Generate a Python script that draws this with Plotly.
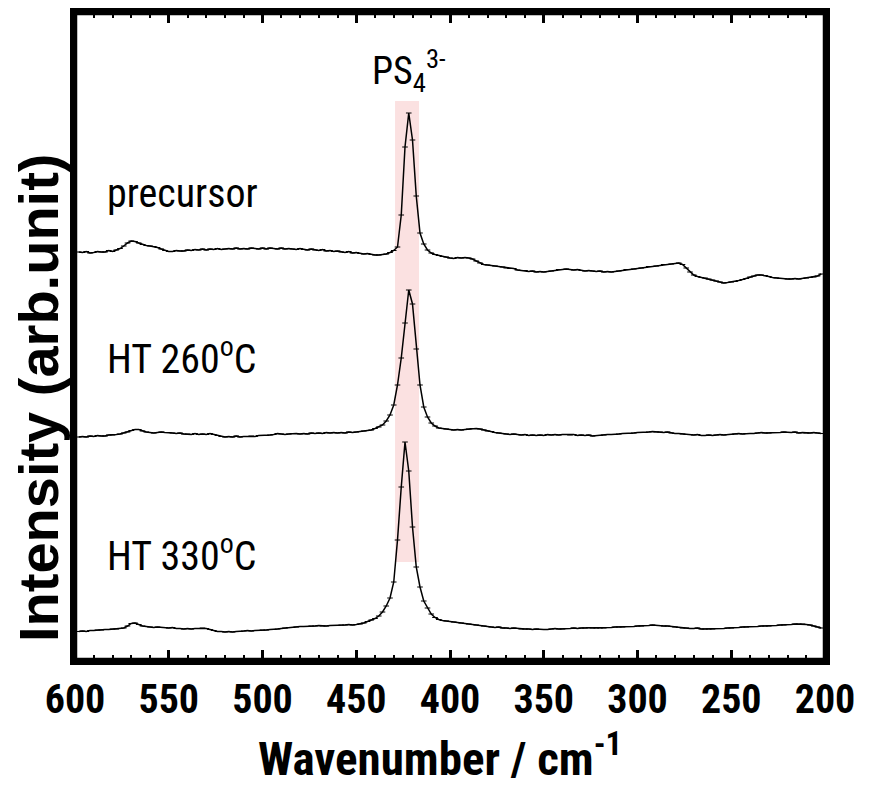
import plotly.graph_objects as go

# ---------------- data ----------------
wavenumber = list(range(598, 200, -2))  # cm^-1, 598 ... 202

precursor = [
    408, 407.5, 408.5, 407, 407.5, 408.5, 408, 408, 409.5, 408.5,
    410, 411.5, 414, 417, 419, 418.5, 417, 415.5, 414.5, 414,
    413.5, 412.5, 411, 409.5, 408.5, 408.5, 409.5, 409, 409, 410,
    409.5, 410.5, 410, 411, 410, 411, 410.5, 411.5, 410.5, 411,
    411.5, 411, 412, 411, 411.5, 411, 412, 411.5, 411, 412,
    411, 412, 411.5, 411, 412, 411, 411.5, 411, 410.5, 411.5,
    410.5, 410, 411, 410, 409.5, 410.5, 409, 409.5, 408.5, 409,
    408, 407.5, 408.5, 407, 407.5, 406.5, 406, 406.5, 405.5, 405,
    405, 405.5, 406, 407.5, 409.5, 413, 445, 513, 547, 520,
    464, 427, 416, 410, 407, 405.5, 404.5, 403.5, 403, 402,
    401.5, 402.5, 402, 402.5, 402, 401, 399, 397, 395.5, 395,
    394.5, 394, 393.5, 393, 392, 391.5, 391.5, 390, 389.5, 389.5,
    388.5, 389, 388, 388.5, 388, 388.5, 389, 389.5, 390.5, 390.5,
    391, 390.5, 390, 390.5, 389.5, 389, 389.5, 389, 388.5, 389,
    388, 388.5, 388, 388.5, 389, 389.5, 390.5, 390.5, 391, 391.5,
    392, 392.5, 393.5, 393.5, 394, 394.5, 395.5, 395.5, 396, 396.5,
    397, 395.5, 392, 388, 385, 383.5, 382.5, 382, 381, 380,
    379, 378, 377, 377.5, 378, 378.5, 379.5, 380.5, 381.5, 383,
    384, 385, 385, 384.5, 383.5, 382.5, 382, 381.5, 381.5, 381,
    381, 381.5, 381, 381.5, 382, 382.5, 383, 384, 386,
]

ht260 = [
    223, 223.5, 223, 224, 223.5, 224.5, 224, 224, 225, 225,
    225.5, 226, 227, 228, 229.5, 230.5, 230.5, 229, 228, 227.5,
    227, 227.5, 228, 227.5, 227.5, 227, 226.5, 227, 226, 226,
    225.5, 226.5, 225.5, 226, 225.5, 226.5, 225.5, 224.5, 223.5, 223,
    223.5, 223, 224, 223, 223.5, 223.5, 224, 223.5, 224.5, 224.5,
    224.5, 225, 225.5, 226.5, 226, 225.5, 226, 226.5, 226.5, 226,
    226.5, 226, 227, 226.5, 227, 226.5, 227.5, 227, 227.5, 227,
    227.5, 227, 228, 227.5, 228, 228.5, 229, 229.5, 230, 231.5,
    233, 235, 239, 245, 255, 275, 302, 337, 370, 356,
    311, 275, 253, 243, 237, 234, 232, 231.5, 231, 230.5,
    230, 230.5, 230, 230.5, 231, 231.5, 231.5, 231, 230, 229,
    228.5, 227.5, 227, 226.5, 226, 225.5, 226, 225.5, 225, 225.5,
    224.5, 225, 224.5, 225, 224.5, 225.5, 225, 225.5, 225, 225.5,
    225.5, 225, 225.5, 224.5, 225, 224.5, 225, 224, 224.5, 224.5,
    225, 225.5, 225.5, 225.5, 226, 226.5, 226.5, 226.5, 227, 227.5,
    227.5, 227.5, 228, 228.5, 228, 228, 227.5, 228, 227, 226.5,
    226.5, 226, 225.5, 225.5, 225, 225.5, 224.5, 224.5, 225, 224.5,
    225, 225.5, 225, 225.5, 225.5, 226, 226.5, 226, 226.5, 226.5,
    226.5, 227, 227.5, 227, 227, 227.5, 227.5, 227.5, 228, 227.5,
    227.5, 228, 227, 227.5, 227, 227, 227.5, 227, 226.5,
]

ht330 = [
    28.5, 29, 28.5, 29.5, 29.5, 30, 30, 30.5, 30.5, 31,
    31, 31.5, 32, 34, 36.5, 37, 35.5, 34, 33.5, 33,
    32.5, 33, 32.5, 32.5, 32, 32.5, 31.5, 31.5, 31, 31.5,
    31, 31.5, 31.5, 32, 31.5, 30.5, 29.5, 28.5, 28.5, 28,
    28.5, 28, 28.5, 28.5, 29, 29.5, 29, 29.5, 29.5, 30,
    30, 30.5, 30.5, 31, 31.5, 32, 32.5, 32.5, 33, 33.5,
    33.5, 33.5, 34, 34, 34.5, 34, 34, 34.5, 34.5, 34.5,
    35, 35, 35.5, 35, 35.5, 36, 37, 38.5, 40, 41.5,
    44, 48, 54, 62, 78, 120, 173, 218, 189, 133,
    93, 73, 59, 52, 46, 42.5, 40.5, 39.5, 39, 38.5,
    38, 37.5, 37, 36.5, 36, 35.5, 35, 34.5, 34, 33.5,
    33, 32.5, 33, 32, 32, 31.5, 32, 31.5, 31, 31,
    31, 30.5, 31, 30.5, 30.5, 30.5, 31, 31.5, 31, 31,
    31.5, 31.5, 32, 31.5, 32, 32, 32.5, 32, 32, 32,
    32, 32.5, 32.5, 33, 33, 33, 33.5, 33.5, 33.5, 34,
    34, 34.5, 34.5, 35, 34.5, 34.5, 34, 34, 33.5, 33,
    32.5, 32, 32, 31.5, 31.5, 32, 31, 31, 31, 31,
    31.5, 31.5, 31.5, 32, 32, 32.5, 32.5, 33, 33, 33.5,
    33.5, 33.5, 34, 34, 34, 34.5, 34.5, 35, 35, 35.5,
    35.5, 36, 36, 36, 35.5, 35, 34, 33, 32,
]

series_names = ["precursor", "HT 260<sup>o</sup>C", "HT 330<sup>o</sup>C"]
tick_values = [600, 550, 500, 450, 400, 350, 300, 250, 200]
band_range = [416.5, 429.3]      # PS4 3- band (cm^-1)
band_intensity = [98, 559]       # vertical extent of the band

# ---------------- figure ----------------
NARROW = ("Roboto Condensed, Noto Sans ExtraCondensed, Noto Sans Condensed, "
          "Liberation Sans Narrow, DejaVu Sans Condensed, sans-serif")
fig = go.Figure()

fig.add_shape(type="rect", xref="x", yref="y",
              x0=band_range[0], x1=band_range[1],
              y0=band_intensity[0], y1=band_intensity[1],
              fillcolor="#fbe1e1", line=dict(width=0), layer="below")
# plot frame
fig.add_shape(type="rect", xref="paper", yref="paper", x0=0, x1=1, y0=0, y1=1,
              line=dict(color="black", width=4.5), fillcolor="rgba(0,0,0,0)",
              layer="above")

for ys in (precursor, ht260, ht330):
    fig.add_trace(go.Scatter(
        x=wavenumber, y=ys, mode="lines+markers",
        line=dict(color="black", width=1.5),
        marker=dict(symbol="line-ew", size=4, color="black",
                    line=dict(width=1, color="black")),
        showlegend=False, hoverinfo="skip"))

fig.update_xaxes(
    range=[600, 200], tickmode="array", tickvals=tick_values,
    ticks="inside", ticklen=10, tickwidth=2.5, tickcolor="black",
    minor=dict(dtick=10, ticks="inside", ticklen=5, tickwidth=2, tickcolor="black",
               showgrid=False),
    showline=True, linewidth=4.5, linecolor="black", mirror="ticks",
    showgrid=False, zeroline=False, automargin=False,
    tickfont=dict(family=NARROW, size=40, weight="bold", color="black"),
)
fig.update_yaxes(
    range=[0, 647], showticklabels=False, ticks="",
    showline=True, linewidth=4.5, linecolor="black", mirror=True,
    showgrid=False, zeroline=False, automargin=False,
)

# the page body keeps its default 8px margin; the figure is sized to fit the window
PAGE_OFFSET = 8

def px_x(p):
    return (p - 75) / 750.0

def px_y(p):
    return (660 - p) / 647.0

annots = [
    dict(text="PS<sub>4</sub><sup>3-</sup>", x=px_x(370), y=px_y(70),
         font=dict(family=NARROW, size=38, color="black")),
    dict(text=series_names[0], x=px_x(105), y=px_y(193),
         font=dict(family=NARROW, size=40, color="black")),
    dict(text=series_names[1], x=px_x(105), y=px_y(356),
         font=dict(family=NARROW, size=40, color="black")),
    dict(text=series_names[2], x=px_x(105), y=px_y(553),
         font=dict(family=NARROW, size=40, color="black")),
]
for a in annots:
    fig.add_annotation(xref="paper", yref="paper", showarrow=False,
                       xanchor="left", yanchor="middle", **a)

fig.add_annotation(text="Wavenumber / cm<sup>-1</sup>", xref="paper", yref="paper",
                   x=px_x(440), y=px_y(755), showarrow=False,
                   xanchor="center", yanchor="middle",
                   font=dict(family=NARROW, size=47, weight="bold", color="black"))
fig.add_annotation(text="Intensity (arb.unit)", xref="paper", yref="paper",
                   x=px_x(39), y=px_y(398), showarrow=False, textangle=-90,
                   xanchor="center", yanchor="middle",
                   font=dict(family="Liberation Sans, Arial, sans-serif", size=56,
                             weight="bold", color="black"))

fig.update_layout(
    width=877 - PAGE_OFFSET, height=787 - PAGE_OFFSET,
    margin=dict(l=75 - PAGE_OFFSET, r=52, t=13 - PAGE_OFFSET, b=127),
    paper_bgcolor="white", plot_bgcolor="white",
)

fig.write_html("out.html")
